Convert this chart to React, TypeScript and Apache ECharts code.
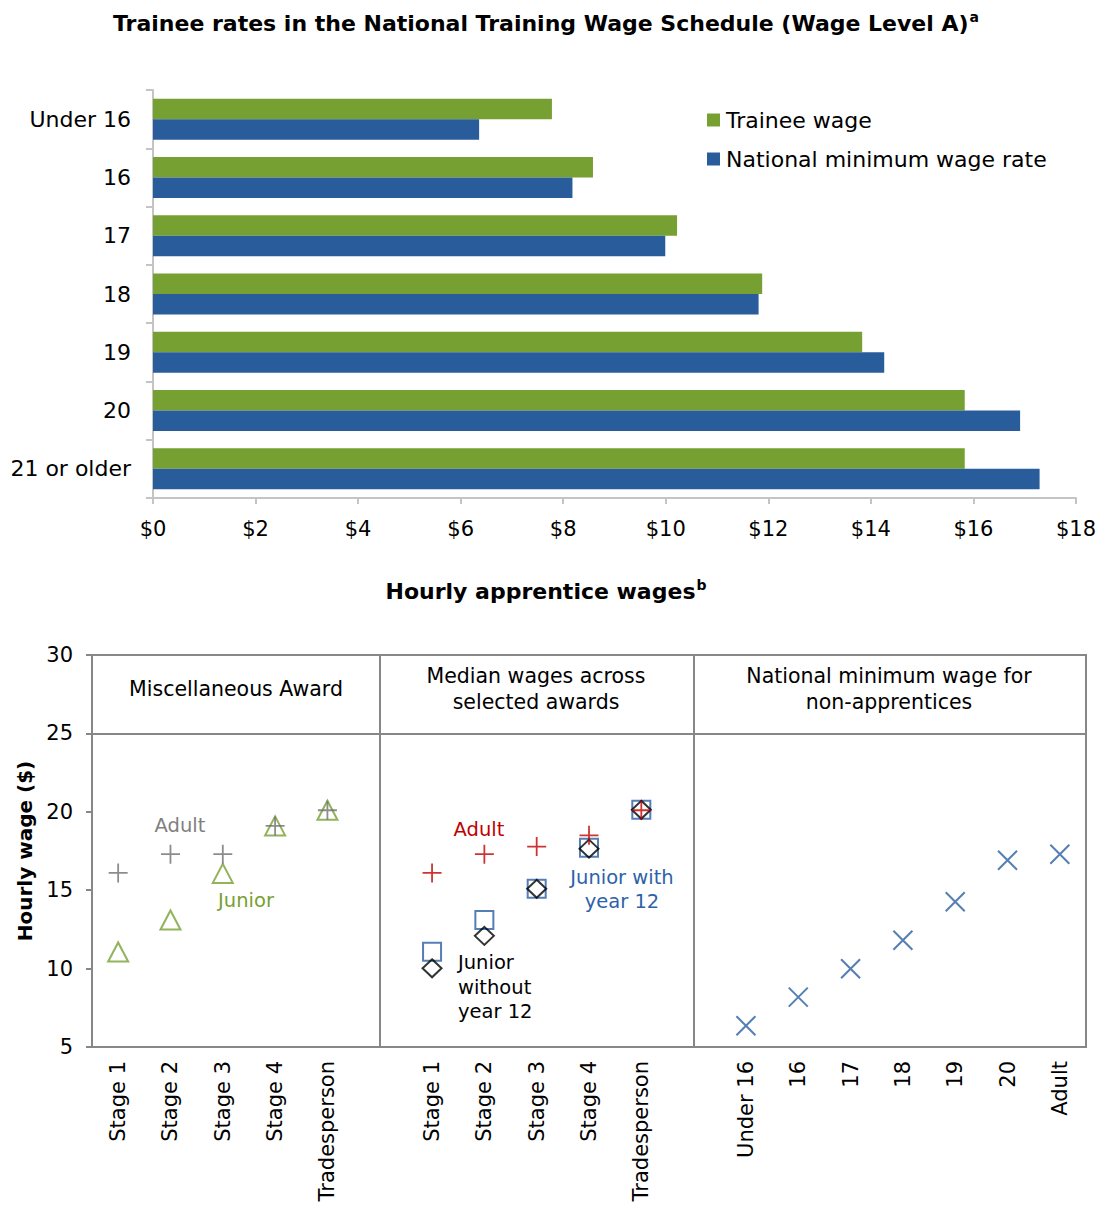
import React, { useEffect, useRef } from 'react';
import * as echarts from 'echarts';

// ---------- Top chart data ----------
const ageCategories = ['Under 16', '16', '17', '18', '19', '20', '21 or older'];
const traineeWage = [7.78, 8.58, 10.22, 11.88, 13.83, 15.83, 15.83];
const nationalMinimumWage = [6.36, 8.18, 9.99, 11.81, 14.26, 16.91, 17.29];

// ---------- Bottom chart data ----------
const miscCategories = ['Stage 1', 'Stage 2', 'Stage 3', 'Stage 4', 'Tradesperson'];
const medianCategories = ['Stage 1', 'Stage 2', 'Stage 3', 'Stage 4', 'Tradesperson'];
const nmwCategories = ['Under 16', '16', '17', '18', '19', '20', 'Adult'];
const miscAdult = [16.1, 17.3, 17.3, 19.1, 20.1];
const miscJunior = [11.06, 13.1, 16.07, 19.1, 20.1];
const medianAdult = [16.1, 17.3, 17.78, 18.5, 20.1];
const medianJuniorYear12 = [11.08, 13.1, 15.09, 17.7, 20.13];
const medianJuniorNoYear12 = [10.02, 12.09, 15.09, 17.65, 20.13];
const nmwRates = [6.36, 8.18, 9.99, 11.81, 14.26, 16.91, 17.29];

const bottomCategories = [...miscCategories, '', ...medianCategories, ' ', ...nmwCategories];
const MISC_OFFSET = 0;
const MEDIAN_OFFSET = miscCategories.length + 1;
const NMW_OFFSET = MEDIAN_OFFSET + medianCategories.length + 1;
const DIVIDER_1 = miscCategories.length;
const DIVIDER_2 = MEDIAN_OFFSET + medianCategories.length;

const FONT = 'DejaVu Sans';
const GREEN = '#77a033';
const BLUE = '#285c9b';
const AXIS_GREY = '#878787';
const LIGHT_GREY = '#c4c4c4';

const PLUS = 'path://M0,10L20,10M10,0L10,20';
const CROSS = 'path://M0,0L20,20M20,0L0,20';

const toPoints = (vals: number[], offset: number) => vals.map((v, i) => [i + offset, v]);

const titleRich = {
  t: { fontFamily: FONT, fontSize: 22, fontWeight: 'bold', fill: '#000' },
  s: { fontFamily: FONT, fontSize: 14, fontWeight: 'bold', fill: '#000', padding: [0, 0, 13, 1] },
};

export default function App() {
  const ref = useRef<HTMLDivElement>(null);

  useEffect(() => {
    document.body.style.margin = '0';
    if (!ref.current) return;
    const chart = echarts.init(ref.current, undefined, { renderer: 'svg' });

    const option: any = {
      animation: false,
      backgroundColor: '#fff',
      textStyle: { fontFamily: FONT },
      legend: {
        data: ['Trainee wage', 'National minimum wage rate'],
        orient: 'vertical',
        left: 707,
        top: 109,
        itemWidth: 13,
        itemHeight: 13,
        itemGap: 17,
        padding: 0,
        icon: 'rect',
        textStyle: { fontFamily: FONT, fontSize: 22, color: '#000', padding: [0, 0, 0, 1] },
      },
      grid: [
        { left: 153, top: 90, width: 923, height: 408, containLabel: false },
        {
          left: 92, top: 655, width: 994, height: 392, containLabel: false,
          show: true, borderColor: AXIS_GREY, borderWidth: 2, backgroundColor: 'transparent',
        },
      ],
      xAxis: [
        {
          gridIndex: 0,
          type: 'value',
          min: 0,
          max: 18,
          interval: 2,
          splitLine: { show: false },
          axisLine: { show: true, lineStyle: { color: LIGHT_GREY, width: 2 } },
          axisTick: { show: true, length: 6, lineStyle: { color: LIGHT_GREY, width: 2 } },
          axisLabel: {
            fontFamily: FONT, fontSize: 21, color: '#000', margin: 20,
            formatter: (v: number) => '$' + v,
          },
        },
        {
          gridIndex: 1,
          type: 'category',
          data: bottomCategories,
          boundaryGap: true,
          axisLine: { show: true, lineStyle: { color: AXIS_GREY, width: 2 } },
          axisTick: { show: false },
          axisLabel: {
            fontFamily: FONT, fontSize: 21, color: '#000', rotate: 90, interval: 0, margin: 14,
          },
        },
      ],
      yAxis: [
        {
          gridIndex: 0,
          type: 'category',
          data: ageCategories,
          inverse: true,
          axisLine: { show: true, lineStyle: { color: LIGHT_GREY, width: 2 } },
          axisTick: { show: true, length: 7, lineStyle: { color: LIGHT_GREY, width: 2 } },
          axisLabel: { fontFamily: FONT, fontSize: 22, color: '#000', margin: 22 },
        },
        {
          gridIndex: 1,
          type: 'value',
          min: 5,
          max: 30,
          interval: 5,
          splitLine: { show: false },
          axisLine: { show: true, lineStyle: { color: AXIS_GREY, width: 2 } },
          axisTick: { show: true, length: 6, lineStyle: { color: AXIS_GREY, width: 2 } },
          axisLabel: { fontFamily: FONT, fontSize: 21, color: '#000', margin: 19 },
          name: 'Hourly wage ($)',
          nameLocation: 'middle',
          nameGap: 56,
          nameTextStyle: { fontFamily: FONT, fontSize: 20, fontWeight: 'bold', color: '#000' },
        },
      ],
      series: [
        {
          name: 'Trainee wage',
          type: 'bar',
          xAxisIndex: 0,
          yAxisIndex: 0,
          data: traineeWage,
          barWidth: 20.5,
          barGap: '0%',
          itemStyle: { color: GREEN },
        },
        {
          name: 'National minimum wage rate',
          type: 'bar',
          xAxisIndex: 0,
          yAxisIndex: 0,
          data: nationalMinimumWage,
          barWidth: 20.5,
          barGap: '0%',
          itemStyle: { color: BLUE },
        },
        {
          name: 'Misc junior',
          type: 'scatter',
          xAxisIndex: 1,
          yAxisIndex: 1,
          data: toPoints(miscJunior, MISC_OFFSET),
          symbol: 'triangle',
          symbolSize: [20, 19],
          itemStyle: { color: 'rgba(0,0,0,0)', borderColor: '#77a033', borderWidth: 2 },
          markLine: {
            silent: true,
            symbol: ['none', 'none'],
            label: { show: false },
            lineStyle: { color: AXIS_GREY, width: 2, type: 'solid' },
            data: [
              { yAxis: 25 },
              [{ coord: [DIVIDER_1, 5] }, { coord: [DIVIDER_1, 30] }],
              [{ coord: [DIVIDER_2, 5] }, { coord: [DIVIDER_2, 30] }],
            ],
          },
        },
        {
          name: 'Misc adult',
          type: 'scatter',
          xAxisIndex: 1,
          yAxisIndex: 1,
          data: toPoints(miscAdult, MISC_OFFSET),
          symbol: PLUS,
          symbolSize: 19,
          itemStyle: { color: 'rgba(0,0,0,0)', borderColor: '#6f6f6f', borderWidth: 1.8 },
        },
        {
          name: 'Median junior with year 12',
          type: 'scatter',
          xAxisIndex: 1,
          yAxisIndex: 1,
          data: toPoints(medianJuniorYear12, MEDIAN_OFFSET),
          symbol: 'rect',
          symbolSize: 18,
          itemStyle: { color: 'rgba(0,0,0,0)', borderColor: '#2a5ea5', borderWidth: 2 },
        },
        {
          name: 'Median junior without year 12',
          type: 'scatter',
          xAxisIndex: 1,
          yAxisIndex: 1,
          data: toPoints(medianJuniorNoYear12, MEDIAN_OFFSET),
          symbol: 'diamond',
          symbolSize: [19, 18],
          itemStyle: { color: 'rgba(0,0,0,0)', borderColor: '#000', borderWidth: 2 },
        },
        {
          name: 'Median adult',
          type: 'scatter',
          xAxisIndex: 1,
          yAxisIndex: 1,
          data: toPoints(medianAdult, MEDIAN_OFFSET),
          symbol: PLUS,
          symbolSize: 19,
          itemStyle: { color: 'rgba(0,0,0,0)', borderColor: '#c00000', borderWidth: 1.8 },
        },
        {
          name: 'National minimum wage',
          type: 'scatter',
          xAxisIndex: 1,
          yAxisIndex: 1,
          data: toPoints(nmwRates, NMW_OFFSET),
          symbol: CROSS,
          symbolSize: 19,
          itemStyle: { color: 'rgba(0,0,0,0)', borderColor: '#2a5ea0', borderWidth: 2 },
        },
      ],
      graphic: [
        {
          type: 'text', x: 546, y: 23,
          style: {
            text: '{t|Trainee rates in the National Training Wage Schedule (Wage Level A)}{s|a}',
            align: 'center', verticalAlign: 'middle',
            rich: titleRich,
          },
        },
        {
          type: 'text', x: 546, y: 591,
          style: {
            text: '{t|Hourly apprentice wages}{s|b}',
            align: 'center', verticalAlign: 'middle',
            rich: titleRich,
          },
        },
        {
          type: 'text', x: 236, y: 689,
          style: { text: 'Miscellaneous Award', align: 'center', verticalAlign: 'middle', fontFamily: FONT, fontSize: 20.5, fill: '#000' },
        },
        {
          type: 'text', x: 536, y: 689,
          style: { text: 'Median wages across\nselected awards', align: 'center', verticalAlign: 'middle', fontFamily: FONT, fontSize: 20.5, lineHeight: 26, fill: '#000' },
        },
        {
          type: 'text', x: 889, y: 689,
          style: { text: 'National minimum wage for\nnon-apprentices', align: 'center', verticalAlign: 'middle', fontFamily: FONT, fontSize: 20.5, lineHeight: 26, fill: '#000' },
        },
        {
          type: 'text', x: 180, y: 825,
          style: { text: 'Adult', align: 'center', verticalAlign: 'middle', fontFamily: FONT, fontSize: 19.5, fill: '#7f7f7f' },
        },
        {
          type: 'text', x: 246, y: 900,
          style: { text: 'Junior', align: 'center', verticalAlign: 'middle', fontFamily: FONT, fontSize: 19.5, fill: '#77a033' },
        },
        {
          type: 'text', x: 479, y: 829,
          style: { text: 'Adult', align: 'center', verticalAlign: 'middle', fontFamily: FONT, fontSize: 19.5, fill: '#c00000' },
        },
        {
          type: 'text', x: 622, y: 889,
          style: { text: 'Junior with\nyear 12', align: 'center', verticalAlign: 'middle', fontFamily: FONT, fontSize: 19.5, lineHeight: 24, fill: '#2e62a8' },
        },
        {
          type: 'text', x: 458, y: 987,
          style: { text: 'Junior\nwithout\nyear 12', align: 'left', verticalAlign: 'middle', fontFamily: FONT, fontSize: 19.5, lineHeight: 24.5, fill: '#000' },
        },
      ],
    };

    chart.setOption(option);
    return () => chart.dispose();
  }, []);

  return <div ref={ref} style={{ width: 1102, height: 1209 }} />;
}
